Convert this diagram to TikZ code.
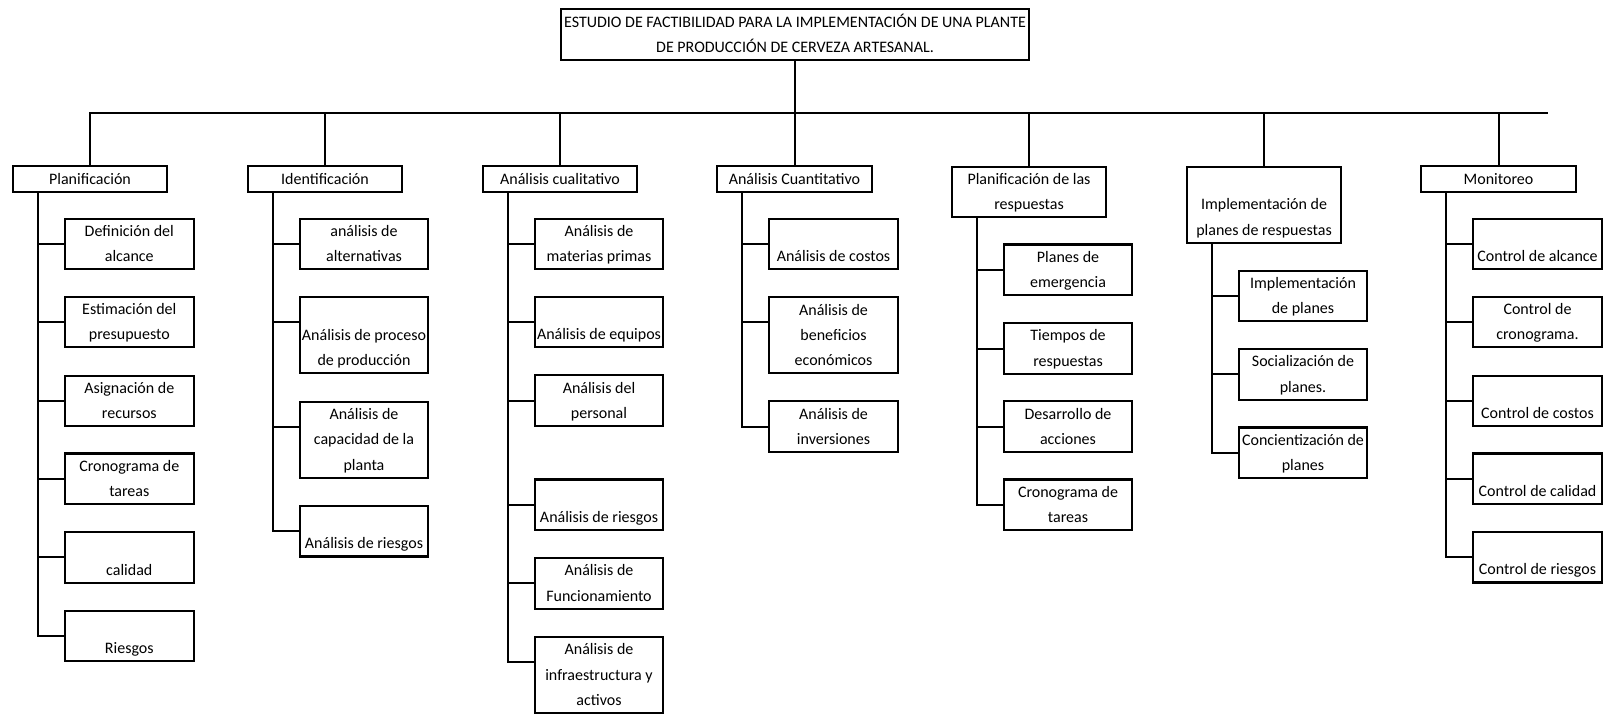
\documentclass[tikz,border=0pt]{standalone}
\usepackage{fontspec}
\setmainfont{Carlito}
\usetikzlibrary{calc}
\begin{document}
\begin{tikzpicture}[x=0.75pt,y=-0.75pt,
  box/.style={draw,line width=1.6pt,inner sep=0pt,align=center,
    font=\fontsize{12}{19}\selectfont},
  hdr/.style={box,minimum width=115.8pt,minimum height=19pt},
  leaf/.style={box,minimum width=96.6pt,minimum height=38pt},
  link/.style={line width=1.5pt}]
\useasboundingbox (0,0) rectangle (1608,715);

% root
\node[box,minimum width=350.9pt,minimum height=38pt] (top) at (795,34.7)
  {\strut ESTUDIO DE FACTIBILIDAD PARA LA IMPLEMENTACIÓN DE UNA PLANTE\\\strut DE PRODUCCIÓN DE CERVEZA ARTESANAL.};

% phases
\node[hdr] (h1) at (90,179)     {\strut Planificación};
\node[hdr] (h2) at (325,179)    {\strut Identificación};
\node[hdr] (h3) at (560,179)    {\strut Análisis cualitativo};
\node[hdr] (h4) at (794.5,179)  {\strut Análisis Cuantitativo};
\node[hdr] (h5) at (1029,191.9) {\strut Planificación de las\\\strut respuestas};
\node[hdr] (h6) at (1264,204.7) {\strut\\\strut Implementación de\\\strut planes de respuestas};
\node[hdr] (h7) at (1498.5,179) {\strut Monitoreo};

% Planificación
\node[leaf] (a1) at (129.3,244)   {\strut Definición del\\\strut alcance};
\node[leaf] (a2) at (129.3,322)   {\strut Estimación del\\\strut presupuesto};
\node[leaf] (a3) at (129.3,401)   {\strut Asignación de\\\strut recursos};
\node[leaf] (a4) at (129.3,478.8) {\strut Cronograma de\\\strut tareas};
\node[leaf] (a5) at (129.3,557.3) {\strut\\\strut calidad};
\node[leaf] (a6) at (129.3,636)   {\strut\\\strut Riesgos};

% Identificación
\node[leaf] (b1) at (364,244)   {\strut análisis de\\\strut alternativas};
\node[leaf] (b2) at (364,335.3) {\strut\\\strut Análisis de proceso\\\strut de producción};
\node[leaf] (b3) at (364,439.8) {\strut Análisis de\\\strut capacidad de la\\\strut planta};
\node[leaf] (b4) at (364,531.2) {\strut\\\strut Análisis de riesgos};

% Análisis cualitativo
\node[leaf] (c1) at (599,244)   {\strut Análisis de\\\strut materias primas};
\node[leaf] (c2) at (599,322)   {\strut\\\strut Análisis de equipos};
\node[leaf] (c3) at (599,400.7) {\strut Análisis del\\\strut personal};
\node[leaf] (c4) at (599,504.8) {\strut\\\strut Análisis de riesgos};
\node[leaf] (c5) at (599,583.3) {\strut Análisis de\\\strut Funcionamiento};
\node[leaf] (c6) at (599,675)   {\strut Análisis de\\\strut infraestructura y\\\strut activos};

% Análisis Cuantitativo
\node[leaf] (d1) at (833.5,244)   {\strut\\\strut Análisis de costos};
\node[leaf] (d2) at (833.5,335.3) {\strut Análisis de\\\strut beneficios\\\strut económicos};
\node[leaf] (d3) at (833.5,426.7) {\strut Análisis de\\\strut inversiones};

% Planificación de las respuestas
\node[leaf] (e1) at (1068,269.8) {\strut Planes de\\\strut emergencia};
\node[leaf] (e2) at (1068,348.5) {\strut Tiempos de\\\strut respuestas};
\node[leaf] (e3) at (1068,426.7) {\strut Desarrollo de\\\strut acciones};
\node[leaf] (e4) at (1068,504.8) {\strut Cronograma de\\\strut tareas};

% Implementación de planes de respuestas
\node[leaf] (f1) at (1303,296)   {\strut Implementación\\\strut de planes};
\node[leaf] (f2) at (1303,374.3) {\strut Socialización de\\\strut planes.};
\node[leaf] (f3) at (1303,452.8) {\strut Concientización de\\\strut planes};

% Monitoreo
\node[leaf] (g1) at (1537.5,244)   {\strut\\\strut Control de alcance};
\node[leaf] (g2) at (1537.5,322)   {\strut Control de\\\strut cronograma.};
\node[leaf] (g3) at (1537.5,401)   {\strut\\\strut Control de costos};
\node[leaf] (g4) at (1537.5,478.8) {\strut\\\strut Control de calidad};
\node[leaf] (g5) at (1537.5,557.2) {\strut\\\strut Control de riesgos};

% root to phases
\coordinate (barR) at (1548,113);
\draw[link] (top.south) -- (top.south |- barR);
\draw[link] (h1.north) |- (barR);
\foreach \h in {h2,h3,h4,h5,h6,h7}
  \draw[link] (\h.north) -- (\h.north |- barR);

% trunks below each phase
\foreach \h/\t in {h1/t1,h2/t2,h3/t3,h4/t4,h5/t5,h6/t6,h7/t7}
  \path (\h.south) ++(-52.3,0) coordinate (\t);

% attachment points on the three-line boxes
\coordinate (b2w) at ($(b2.north west)!1/3!(b2.south west)$);
\coordinate (b3w) at ($(b3.north west)!1/3!(b3.south west)$);
\coordinate (c6w) at ($(c6.north west)!1/3!(c6.south west)$);
\coordinate (d2w) at ($(d2.north west)!1/3!(d2.south west)$);

\draw[link] (t1) |- (a6.west);
\foreach \n in {a1,a2,a3,a4,a5} \draw[link] (\n.west) -- (\n.west -| t1);

\draw[link] (t2) |- (b4.west);
\draw[link] (b1.west) -- (b1.west -| t2);
\draw[link] (b2w) -- (b2w -| t2);
\draw[link] (b3w) -- (b3w -| t2);

\draw[link] (t3) |- (c6w);
\foreach \n in {c1,c2,c3,c4,c5} \draw[link] (\n.west) -- (\n.west -| t3);

\draw[link] (t4) |- (d3.west);
\draw[link] (d1.west) -- (d1.west -| t4);
\draw[link] (d2w) -- (d2w -| t4);

\draw[link] (t5) |- (e4.west);
\foreach \n in {e1,e2,e3} \draw[link] (\n.west) -- (\n.west -| t5);

\draw[link] (t6) |- (f3.west);
\foreach \n in {f1,f2} \draw[link] (\n.west) -- (\n.west -| t6);

\draw[link] (t7) |- (g5.west);
\foreach \n in {g1,g2,g3,g4} \draw[link] (\n.west) -- (\n.west -| t7);
\end{tikzpicture}
\end{document}
